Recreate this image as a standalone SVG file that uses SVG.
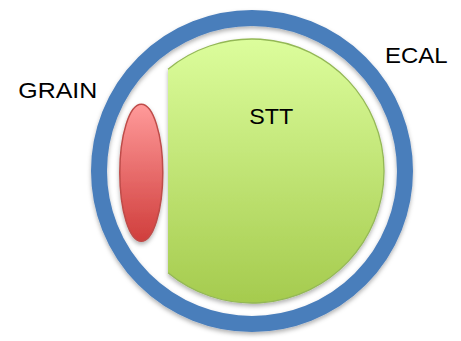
<svg xmlns="http://www.w3.org/2000/svg" width="461" height="341" viewBox="0 0 461 341">
  <style>
    .lbl { font-family: "Liberation Sans", Arial, sans-serif; font-size: 22.5px; fill: #000; }
  </style>
  <defs>
    <linearGradient id="gGreen" x1="0" y1="0" x2="0" y2="1">
      <stop offset="0" stop-color="#dcfd9c"/>
      <stop offset="1" stop-color="#a5cb4e"/>
    </linearGradient>
    <linearGradient id="gRed" x1="0" y1="0" x2="0" y2="1">
      <stop offset="0" stop-color="#ff9a9a"/>
      <stop offset="1" stop-color="#d03e3c"/>
    </linearGradient>
    <filter id="sh" x="-20%" y="-20%" width="140%" height="140%">
      <feDropShadow dx="0" dy="2.5" stdDeviation="2.2" flood-color="#000" flood-opacity="0.3"/>
    </filter>
  </defs>
  <rect width="461" height="341" fill="#fff"/>
  <g id="ecal">
    <circle cx="252" cy="171" r="153" fill="none" stroke="#4a7ebb" stroke-width="16" filter="url(#sh)"/>
    <text class="lbl" x="385" y="62.7" textLength="62.5" lengthAdjust="spacingAndGlyphs">ECAL</text>
  </g>
  <g id="stt">
    <g filter="url(#sh)">
      <path d="M168,69.2 A132,132 0 1 1 168,272.8 Z" fill="url(#gGreen)"/>
      <path d="M168,69.2 A132,132 0 1 1 168,272.8" fill="none" stroke="#94b856" stroke-width="1.3"/>
    </g>
    <text class="lbl" x="249.3" y="124" textLength="44" lengthAdjust="spacingAndGlyphs">STT</text>
  </g>
  <g id="grain">
    <ellipse cx="141.3" cy="172.8" rx="21.5" ry="68.5" fill="url(#gRed)" stroke="#be4b48" stroke-width="1.5" filter="url(#sh)"/>
    <text class="lbl" x="18.3" y="97.7" textLength="79" lengthAdjust="spacingAndGlyphs">GRAIN</text>
  </g>
</svg>
